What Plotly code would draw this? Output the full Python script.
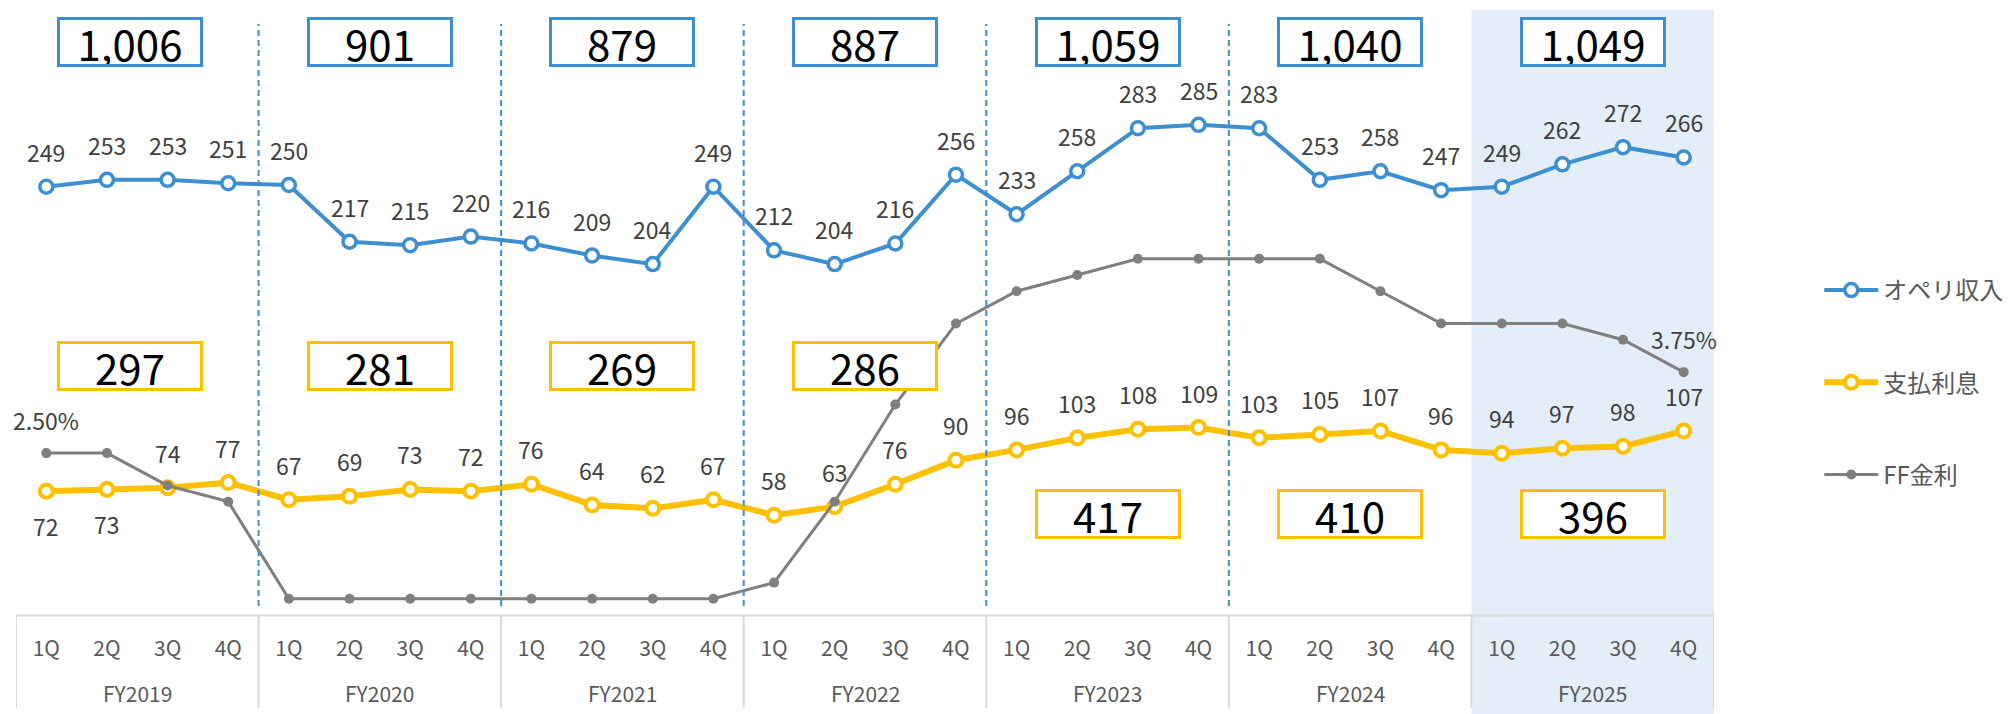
import plotly.graph_objects as go

# ---------------- data ----------------
fiscal_years = ["FY2019", "FY2020", "FY2021", "FY2022", "FY2023", "FY2024", "FY2025"]
quarters = ["1Q", "2Q", "3Q", "4Q"]

ope_income = [249, 253, 253, 251, 250, 217, 215, 220, 216, 209, 204, 249,
              212, 204, 216, 256, 233, 258, 283, 285, 283, 253, 258, 247,
              249, 262, 272, 266]
interest_paid = [72, 73, 74, 77, 67, 69, 73, 72, 76, 64, 62, 67,
                 58, 63, 76, 90, 96, 103, 108, 109, 103, 105, 107, 96,
                 94, 97, 98, 107]
ff_rate = [2.50, 2.50, 2.00, 1.75, 0.25, 0.25, 0.25, 0.25, 0.25, 0.25, 0.25, 0.25,
           0.50, 1.75, 3.25, 4.50, 5.00, 5.25, 5.50, 5.50, 5.50, 5.50, 5.00, 4.50,
           4.50, 4.50, 4.25, 3.75]
ope_income_fy = ["1,006", "901", "879", "887", "1,059", "1,040", "1,049"]
interest_paid_fy = ["297", "281", "269", "286", "417", "410", "396"]

categories = [f"{fy} {q}" for fy in fiscal_years for q in quarters]
tick_text = [q for fy in fiscal_years for q in quarters]

# ---------------- styles ----------------
BLUE = "#3D8FCF"
YELLOW = "#FFC000"
GRAY = "#7F7F7F"
LABEL = "#404040"
AXIS_TXT = "#595959"
FONT = "Noto Sans CJK JP"

W, H = 2008, 714
ML, MR, MT, MB = 16, 294, 0, 99
PH = H - MT - MB  # plot height in px


def py(pix):
    """pixel y (from top of figure) -> paper y"""
    return (H - MB - pix) / PH


fig = go.Figure()

fig.add_trace(go.Scatter(
    x=categories, y=ope_income, name="オペリ収入", mode="lines+markers",
    line=dict(color=BLUE, width=4),
    marker=dict(symbol="circle", size=13, color="white", line=dict(color=BLUE, width=3.5)),
    legendgroup="a",
))
fig.add_trace(go.Scatter(
    x=categories, y=interest_paid, name="支払利息", mode="lines+markers",
    line=dict(color=YELLOW, width=6),
    marker=dict(symbol="circle", size=13, color="white", line=dict(color=YELLOW, width=4)),
    legendgroup="b",
))
fig.add_trace(go.Scatter(
    x=categories, y=ff_rate, name="FF金利", mode="lines+markers", yaxis="y2",
    line=dict(color=GRAY, width=3),
    marker=dict(symbol="circle", size=10, color=GRAY),
    legendgroup="c",
))

annotations = []
lab_font = dict(size=23, color=LABEL, family=FONT)
# data labels
for i, v in enumerate(ope_income):
    annotations.append(dict(x=i, y=v, xref="x", yref="y", text=str(v), showarrow=False,
                            yanchor="middle", yshift=35, font=lab_font))
for i, v in enumerate(interest_paid):
    shift = -35 if i in (0, 1) else 35
    annotations.append(dict(x=i, y=v, xref="x", yref="y", text=str(v), showarrow=False,
                            yanchor="middle", yshift=shift, font=lab_font))
for i in (0, len(ff_rate) - 1):
    annotations.append(dict(x=i, y=ff_rate[i], xref="x", yref="y2", text=f"{ff_rate[i]:.2f}%",
                            showarrow=False, yanchor="middle", yshift=33, font=lab_font))

# fiscal-year total boxes
for k, fy in enumerate(fiscal_years):
    cx = 4 * k + 1.5
    xs = -7 if k == 0 else 0
    annotations.append(dict(x=cx, y=py(41.7), xref="x", yref="paper", text=ope_income_fy[k],
                            showarrow=False, xshift=xs, xanchor="center", yanchor="middle",
                            width=140, height=44, borderpad=0,
                            bordercolor=BLUE, borderwidth=3, bgcolor="white",
                            font=dict(size=42, color="black", family=FONT)))
    ypx = 366 if k < 4 else 514
    annotations.append(dict(x=cx, y=py(ypx), xref="x", yref="paper", text=interest_paid_fy[k],
                            showarrow=False, xshift=xs, xanchor="center", yanchor="middle",
                            width=140, height=44, borderpad=0,
                            bordercolor=YELLOW, borderwidth=3, bgcolor="white",
                            font=dict(size=42, color="black", family=FONT)))
    # FY label under axis
    annotations.append(dict(x=cx, y=py(692.5), xref="x", yref="paper", text=fy,
                            showarrow=False, xanchor="center", yanchor="middle",
                            font=dict(size=21, color=AXIS_TXT, family=FONT)))

shapes = []
# FY2025 highlight
shapes.append(dict(type="rect", xref="x", yref="paper", x0=23.5, x1=27.72,
                   y0=py(714), y1=py(10), fillcolor="#E3EEF8", line=dict(width=0), layer="below"))
# dashed separators between fiscal years
for b in range(1, 6):
    xb = 4 * b - 0.5
    shapes.append(dict(type="line", xref="x", yref="paper", x0=xb, x1=xb, y0=py(606), y1=py(24),
                       line=dict(color=BLUE, width=2, dash="6px,4px")))
# axis box lines
shapes.append(dict(type="line", xref="x", yref="paper", x0=-0.5, x1=27.5, y0=py(615.5), y1=py(615.5),
                   line=dict(color="#D9D9D9", width=2)))
for b in range(0, 8):
    xb = 4 * b - 0.5
    shapes.append(dict(type="line", xref="x", yref="paper", x0=xb, x1=xb, y0=py(615.5), y1=py(708),
                       line=dict(color="#D9D9D9", width=2)))

fig.update_layout(
    width=W, height=H,
    margin=dict(l=ML, r=MR, t=MT, b=MB, autoexpand=False),
    paper_bgcolor="white", plot_bgcolor="rgba(0,0,0,0)",
    font=dict(family=FONT, color=AXIS_TXT),
    xaxis=dict(type="category", categoryorder="array", categoryarray=categories,
               tickmode="array", tickvals=categories, ticktext=tick_text,
               range=[-0.5, 27.5], showgrid=False, zeroline=False, showline=False,
               ticks="outside", ticklen=15, tickcolor="rgba(0,0,0,0)",
               tickfont=dict(size=21, color=AXIS_TXT, family=FONT)),
    yaxis=dict(range=[0, PH / 1.72], visible=False, showgrid=False, zeroline=False),
    yaxis2=dict(range=[0, PH / 64.76], overlaying="y", side="right", visible=False,
                showgrid=False, zeroline=False),
    legend=dict(x=1.062, y=py(268), xanchor="left", yanchor="top",
                font=dict(size=24, color=AXIS_TXT, family=FONT),
                itemwidth=54, tracegroupgap=58, bgcolor="rgba(0,0,0,0)"),
    showlegend=True,
    annotations=annotations,
    shapes=shapes,
)

fig.write_html("out.html",
               config={"displayModeBar": False},
               post_script="document.body.style.margin='0';document.body.style.padding='0';")
